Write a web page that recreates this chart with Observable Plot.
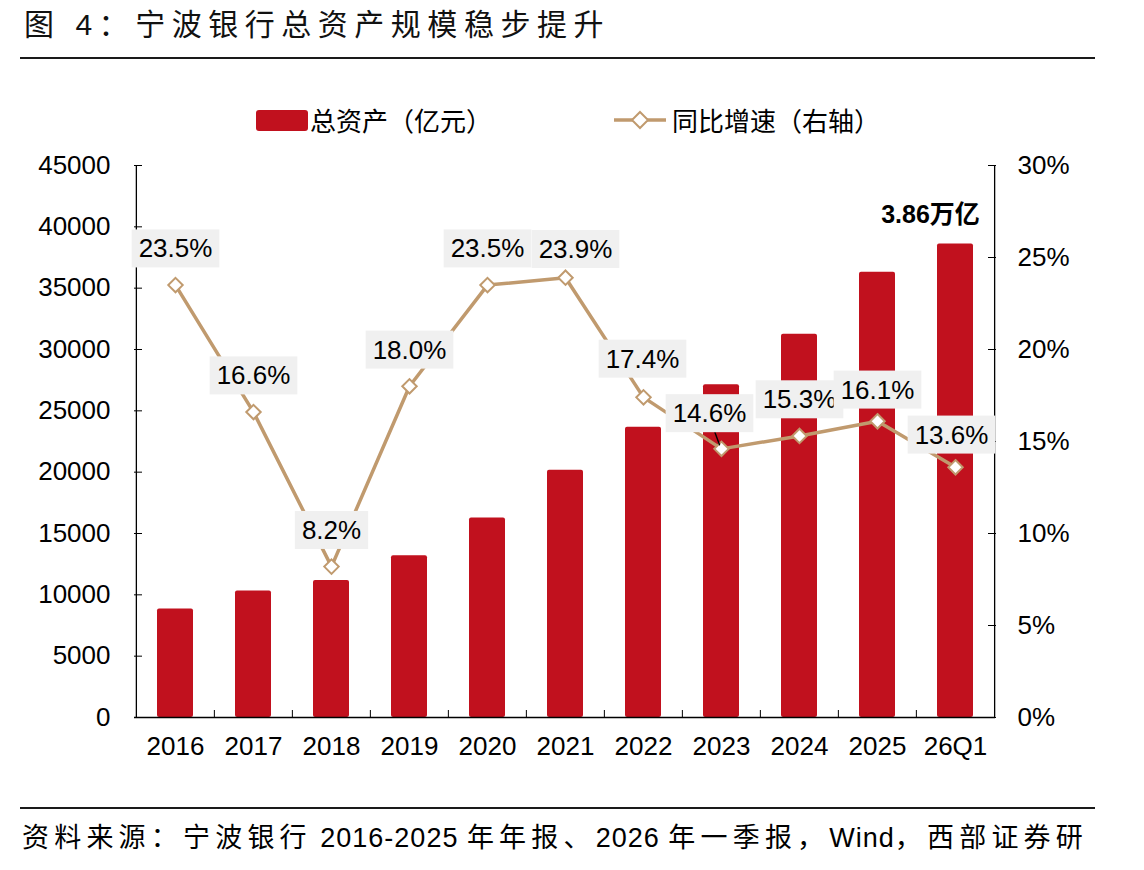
<!DOCTYPE html>
<html>
<head>
<meta charset="utf-8">
<script src="https://cdn.jsdelivr.net/npm/d3@7"></script>
<script src="https://cdn.jsdelivr.net/npm/@observablehq/plot@0.6"></script>
<style>
  html, body { margin: 0; padding: 0; background: #fff; }
  body { width: 1144px; height: 870px; position: relative; overflow: hidden;
         font-family: "Liberation Sans", "Noto Sans CJK SC", sans-serif; color: #000; }
  #title { position: absolute; left: 24px; top: 5px; font-size: 30px; line-height: 40px;
           font-family: "Liberation Sans", "Noto Sans CJK SC", sans-serif; white-space: nowrap; color: #111; }
  .hrule { position: absolute; left: 20px; width: 1075px; height: 2px; background: #1a1a1a; }
  #legend { position: absolute; left: 0; top: 102px; width: 1144px; height: 36px; }
  #legend .swbar { position: absolute; left: 256px; top: 8px; width: 52px; height: 21px; background: #C1111E; border-radius: 3px; }
  #legend .lt { position: absolute; top: 0; font-size: 26px; line-height: 36px; font-family: "Noto Sans CJK SC", sans-serif; white-space: nowrap; }
  #legend svg { position: absolute; left: 612px; top: 4px; }
  #chart { position: absolute; left: 0; top: 145px; }
  #source { position: absolute; left: 22px; top: 820px; font-size: 27px; line-height: 36px; white-space: nowrap;
            font-family: "Liberation Sans", "Noto Sans CJK SC", sans-serif; }
  #source .lat { letter-spacing: 1px; }
</style>
</head>
<body>
<div id="title">图 4：宁波银行总资产规模稳步提升</div>
<div class="hrule" style="top:57px"></div>
<div id="legend">
  <div class="swbar"></div>
  <span class="lt" style="left:310px">总资产（亿元）</span>
  <svg width="58" height="28" viewBox="0 0 58 28">
    <line x1="2" y1="14" x2="54" y2="14" stroke="#C09A6E" stroke-width="3.5"/>
    <path d="M28,6 L36,14 L28,22 L20,14 Z" fill="#fff" stroke="#C09A6E" stroke-width="2"/>
  </svg>
  <span class="lt" style="left:672px">同比增速（右轴）</span>
</div>
<div id="chart"></div>
<div class="hrule" style="top:807px"></div>
<div id="source"></div>

<script>
// ---- data ----
const categories = ["2016", "2017", "2018", "2019", "2020", "2021", "2022", "2023", "2024", "2025", "26Q1"];
const totalAssets = [8850, 10320, 11165, 13177, 16267, 20156, 23661, 27118, 31252, 36300, 38600];
const yoyGrowth = [23.5, 16.6, 8.2, 18.0, 23.5, 23.9, 17.4, 14.6, 15.3, 16.1, 13.6];
const leftTicks = [0, 5000, 10000, 15000, 20000, 25000, 30000, 35000, 40000, 45000];
const rightTicks = [0, 5, 10, 15, 20, 25, 30];
const sourceText = "资料来源：宁波银行 2016-2025 年年报、2026 年一季报，Wind，西部证券研";

// ---- styles ----
const RED = "#C1111E";
const TAN = "#C09A6E";
const NUM_FONT = '"Liberation Sans", Arial, "Noto Sans CJK SC", sans-serif';

const leftMax = 45000, rightMax = 30;
const k = leftMax / rightMax;

const data = categories.map((c, i) => ({cat: c, assets: totalAssets[i], growth: yoyGrowth[i], gy: yoyGrowth[i] * k}));

const W = 1144, H = 645;
const mL = 134, mR = 149, mT = 20, mB = 73;
const step = (W - mL - mR) / categories.length;

// label nudges (px) relative to each point
const nudge = {"2021": [10, -28], "2022": [-1, -38], "2023": [-12, -35], "2025": [0, -31], "26Q1": [-4, -32]};
const defNudge = [0, -36];

const labelMarks = data.map(d => {
  const [dx, dy] = nudge[d.cat] || defNudge;
  return Plot.text([d], {x: "cat", y: "gy", text: d => d.growth.toFixed(1) + "%", dx, dy,
    fontSize: 26, fill: "#000", fontFamily: NUM_FONT});
});

const last = data[data.length - 1];
const d2023 = data.filter(d => d.cat === "2023");

const chart = Plot.plot({
  width: W, height: H,
  marginLeft: mL, marginRight: mR, marginTop: mT, marginBottom: mB,
  style: {fontFamily: NUM_FONT, fontSize: "26px", color: "#000", background: "transparent", overflow: "visible"},
  x: {type: "band", domain: categories, paddingInner: 0.54, paddingOuter: 0.27, label: null},
  y: {domain: [0, leftMax], label: null},
  marks: [
    Plot.barY(data, {x: "cat", y: "assets", fill: RED, rx: 2}),
    // left axis
    Plot.axisY(leftTicks, {anchor: "left", tickSize: 8, insetLeft: 8, tickPadding: 24, fontSize: 26, tickFormat: d => String(d)}),
    Plot.ruleX([categories[0]], {dx: -step / 2, stroke: "#000", strokeWidth: 1.3}),
    // right axis
    Plot.axisY(rightTicks.map(t => t * k), {anchor: "right", tickSize: 8, insetRight: 8, tickPadding: 22, fontSize: 26, tickFormat: d => Math.round(d / k) + "%"}),
    Plot.ruleX([categories[categories.length - 1]], {dx: step / 2, stroke: "#000", strokeWidth: 1.3}),
    // bottom axis
    Plot.axisX({anchor: "bottom", tickSize: 0, tickPadding: 19, fontSize: 26}),
    Plot.axisX(categories.slice(1), {anchor: "bottom", tickSize: 7, insetBottom: 7, dx: -step / 2, fill: "none"}),
    Plot.ruleY([0], {stroke: "#000", strokeWidth: 1.5}),
    // growth line
    Plot.line(data, {x: "cat", y: "gy", stroke: TAN, strokeWidth: 3.5}),
    Plot.dot(data, {x: "cat", y: "gy", symbol: "diamond2", r: 6.5, fill: "#fff", stroke: TAN, strokeWidth: 2}),
    // leader line for 2023 label
    Plot.vector(d2023, {x: "cat", y: "gy", length: 13, rotate: -20, anchor: "start", dx: -2, dy: -4,
      stroke: "#000", strokeWidth: 1.4,
      shape: {draw(ctx, l) { ctx.moveTo(0, 0); ctx.lineTo(0, -l); }}}),
    ...labelMarks,
    // total annotation
    Plot.text([last], {x: "cat", y: "assets", text: d => (d.assets / 10000).toFixed(2) + "万亿",
      dx: -25, dy: -29, fontSize: 25, fontWeight: "bold", fill: "#000", fontFamily: NUM_FONT})
  ]
});

document.getElementById("chart").append(chart);

// gray label boxes behind the growth labels (same coordinate system as each text)
const labelRe = /^\d+\.\d%$/;
chart.querySelectorAll("text").forEach(t => {
  if (!labelRe.test(t.textContent.trim())) return;
  const b = t.getBBox();
  const cy = b.y + b.height / 2;
  const r = document.createElementNS("http://www.w3.org/2000/svg", "rect");
  r.setAttribute("x", b.x - 7);
  r.setAttribute("y", cy - 19);
  r.setAttribute("width", b.width + 14);
  r.setAttribute("height", 38);
  r.setAttribute("fill", "#F0F0F0");
  const tr = t.getAttribute("transform");
  if (tr) r.setAttribute("transform", tr);
  t.parentNode.insertBefore(r, t);
});

// title: fit width
function fitWidth(el, target) {
  const n = el.textContent.length;
  const w = el.getBoundingClientRect().width;
  el.style.letterSpacing = ((target - w) / n) + "px";
}
fitWidth(document.getElementById("title"), 586);

// source: latin runs tight, CJK runs spaced to fit width
const src = document.getElementById("source");
sourceText.split(/([A-Za-z0-9\- ]+)/).filter(s => s.length).forEach(s => {
  const sp = document.createElement("span");
  sp.textContent = s;
  sp.className = /[A-Za-z0-9]/.test(s) ? "lat" : "cjk";
  src.append(sp);
});
const cjkSpans = [...src.querySelectorAll(".cjk")];
const nCjk = cjkSpans.reduce((a, s) => a + s.textContent.length, 0);
const wSrc = src.getBoundingClientRect().width;
const ls = (1066 - wSrc) / nCjk;
cjkSpans.forEach(s => s.style.letterSpacing = ls + "px");
</script>
</body>
</html>
